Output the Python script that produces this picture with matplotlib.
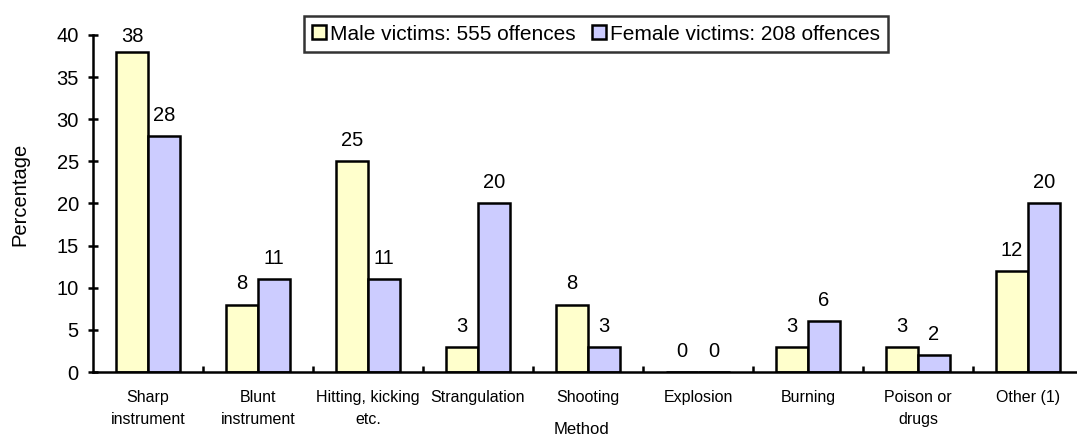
import matplotlib.pyplot as plt
import numpy as np

plt.rcParams['font.family'] = ['Liberation Sans', 'DejaVu Sans']

# Datos
categorias = ["Sharp\ninstrument", "Blunt\ninstrument", "Hitting, kicking\netc.",
              "Strangulation", "Shooting", "Explosion", "Burning",
              "Poison or\ndrugs", "Other (1)"]
hombres = [38, 8, 25, 3, 8, 0, 3, 3, 12]
mujeres = [28, 11, 11, 20, 3, 0, 6, 2, 20]
etiquetas = ["Male victims: 555 offences", "Female victims: 208 offences"]

W, H = 1077, 438
fig = plt.figure(figsize=(W / 100, H / 100), dpi=100)
# el eje x sigue un poco mas alla del borde derecho
ax = fig.add_axes([93 / W, 1 - 372 / H, 990 / W, 337 / H])

x = np.arange(len(categorias))
w = 0.29
b1 = ax.bar(x - w / 2, hombres, w, color='#FFFFCC', edgecolor='black', lw=1.8,
            label=etiquetas[0])
b2 = ax.bar(x + w / 2, mujeres, w, color='#CCCCFF', edgecolor='black', lw=1.8,
            label=etiquetas[1])

# Etiquetas de valores
for barras in (b1, b2):
    for r in barras:
        h = r.get_height()
        off = 8 if h < 37 else 4.5
        ax.annotate(f"{h:g}", (r.get_x() + r.get_width() / 2, h),
                    xytext=(0, off), textcoords='offset points',
                    ha='center', va='bottom', fontsize=14.5)

ax.set_xlim(-0.5, len(categorias) - 0.5)
ax.set_ylim(0, 40)
ax.set_yticks(range(0, 41, 5))
ax.tick_params(axis='y', labelsize=14.5, direction='inout', length=6.5, width=1.8, pad=7)

# Marcas entre categorias
ax.set_xticks(x[:-1] + 0.5)
ax.set_xticklabels([])
ax.set_xticks(x, minor=True)
ax.set_xticklabels(categorias, minor=True, fontsize=11.5, linespacing=1.6)
ax.tick_params(axis='x', which='major', direction='in', length=4, width=1.8)
ax.tick_params(axis='x', which='minor', length=0, pad=13)

for s in ['top', 'right']:
    ax.spines[s].set_visible(False)
ax.spines['left'].set_linewidth(1.8)
ax.spines['bottom'].set_linewidth(1.8)

fig.text(20 / W, 1 - 194 / H, "Percentage", rotation=90, ha='center', va='center',
         fontsize=14.5)
fig.text(582 / W, 1 - 429 / H, "Method", ha='center', va='center', fontsize=12)

leg = fig.legend(loc='center', bbox_to_anchor=(596 / W, 1 - 34 / H), ncol=2,
                 fontsize=15, frameon=True, fancybox=False, handlelength=0.65,
                 handleheight=0.65, handletextpad=0.2, columnspacing=0.8,
                 borderpad=0.4, borderaxespad=0)
leg.get_frame().set_edgecolor('black')
leg.get_frame().set_linewidth(1.8)
for p in leg.get_patches():
    p.set_linewidth(1.8)

fig.savefig("out.png", dpi=100)
